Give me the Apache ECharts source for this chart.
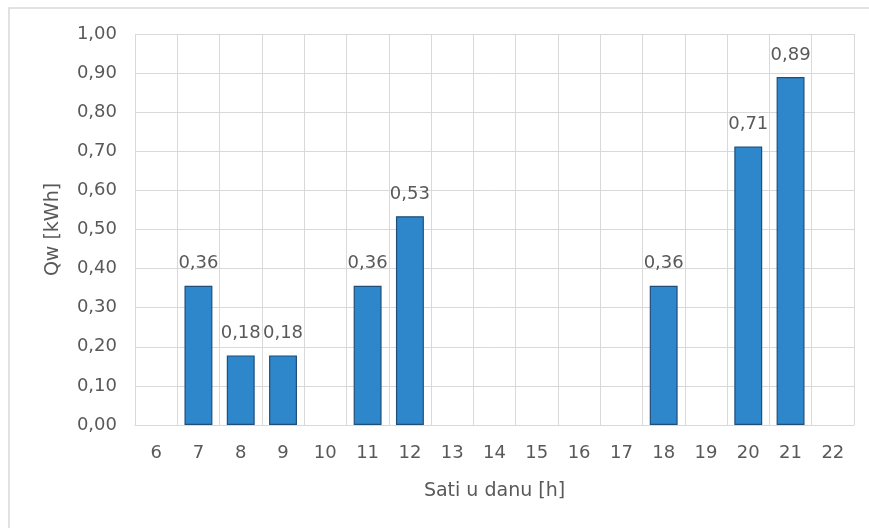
<!DOCTYPE html>
<html>
<head>
<meta charset="utf-8">
<script src="https://cdn.jsdelivr.net/npm/echarts@6/dist/echarts.min.js"></script>
<style>html,body{margin:0;padding:0;background:#fff;}#c{width:869px;height:528px;}</style>
</head>
<body>
<div id="c"></div>
<script>
const hours = ['6','7','8','9','10','11','12','13','14','15','16','17','18','19','20','21','22'];
const qw = [0, 0.356, 0.178, 0.178, 0, 0.356, 0.534, 0, 0, 0, 0, 0, 0.356, 0, 0.712, 0.89, 0];
const yTicks = [0, 0.1, 0.2, 0.3, 0.4, 0.5, 0.6, 0.7, 0.8, 0.9, 1.0];
const yName = 'Qw [kWh]';
const xName = 'Sati u danu [h]';

const fmt = v => v.toFixed(2).replace('.', ',');
const FONT = 'DejaVu Sans';
const TXT = '#595959';
const GRID = '#d9d9d9';

const chart = echarts.init(document.getElementById('c'), null, {renderer: 'canvas'});
chart.setOption({
  animation: false,
  backgroundColor: '#fff',
  graphic: [{
    type: 'rect', shape: {x: 9, y: 8, width: 900, height: 600},
    style: {fill: 'none', stroke: GRID, lineWidth: 1.5}, silent: true
  }],
  grid: {left: 135, right: 15, top: 34, bottom: 103, containLabel: false},
  xAxis: {
    type: 'category', data: hours,
    name: xName, nameLocation: 'middle', nameGap: 57,
    nameTextStyle: {color: TXT, fontFamily: FONT, fontSize: 19},
    axisLine: {show: true, lineStyle: {color: GRID, width: 1}},
    axisTick: {show: false},
    axisLabel: {color: TXT, fontFamily: FONT, fontSize: 18, margin: 19},
    splitLine: {show: true, interval: 0, lineStyle: {color: GRID, width: 1}}
  },
  yAxis: {
    type: 'value', min: yTicks[0], max: yTicks[yTicks.length - 1], interval: 0.1,
    name: yName, nameLocation: 'middle', nameGap: 72,
    nameTextStyle: {color: TXT, fontFamily: FONT, fontSize: 19},
    axisLine: {show: false}, axisTick: {show: false},
    axisLabel: {color: TXT, fontFamily: FONT, fontSize: 18, margin: 18, formatter: v => fmt(v)},
    splitLine: {show: true, lineStyle: {color: GRID, width: 1}}
  },
  series: [{
    type: 'bar',
    data: qw.map(v => v === 0 ? '-' : v),
    barCategoryGap: '34%',
    itemStyle: {color: '#2E87CB', borderColor: '#1F4E79', borderWidth: 1.2},
    label: {
      show: true, position: 'top', distance: 13,
      color: TXT, fontFamily: FONT, fontSize: 18,
      formatter: p => fmt(p.value)
    }
  }]
});
</script>
</body>
</html>
